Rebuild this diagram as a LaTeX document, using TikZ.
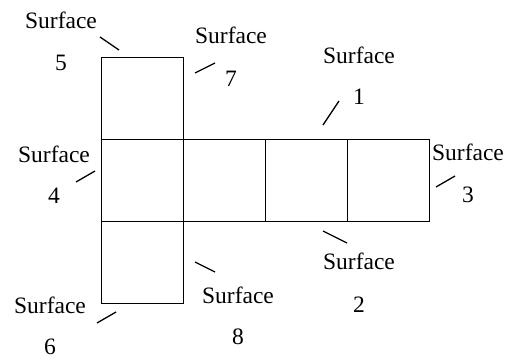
\documentclass[tikz,border=0pt]{standalone}
\usepackage{fontspec}
\setmainfont{Liberation Serif}
\usetikzlibrary{positioning}

\begin{document}
\begin{tikzpicture}[x=1pt,y=-1pt,
    face/.style={draw,minimum size=82pt,inner sep=0pt,outer sep=0pt,line width=0.8pt},
    lab/.style={anchor=base,inner sep=0pt,font=\fontsize{23.5}{28}\selectfont},
    tick/.style={line width=1.3pt}]
    \useasboundingbox (0,0) rectangle (510,359);
    % the unfolded faces
    \node[face] (f4) at (142,180) {};
    \node[face,right=0pt of f4] (f8) {};
    \node[face,right=0pt of f8] (f1) {};
    \node[face,right=0pt of f1] (f3) {};
    \node[face,above=0pt of f4] (f5) {};
    \node[face,below=0pt of f4] (f6) {};
    % labels: x / baseline of Surface / baseline of number / number
    \foreach \x/\ya/\yb/\n in {61/28/70/5, 231/43/86/7, 359/63/104/1, 468/160/202/3,
                              54/162/203/4, 50/313/354/6, 238/303/344/8, 359/269/312/2} {
      \node[lab] (sf\n) at (\x,\ya) {Surface};
      \node[lab] (num\n) at (\x,\yb) {\n};
    }
    % pointer ticks
    \foreach \n/\xa/\ya/\xb/\yb in {5/100/37/119/50, 7/195/73/215/63,
                                   1/323/125/339/101, 3/436/187/455/176,
                                   4/76/182/95/171, 6/97/323/116/312,
                                   8/195/262/215/272, 2/323/231/347/243} {
      \coordinate (ta\n) at (\xa,\ya);
      \coordinate (tb\n) at (\xb,\yb);
      \draw[tick] (ta\n) -- (tb\n);
    }
\end{tikzpicture}
\end{document}
